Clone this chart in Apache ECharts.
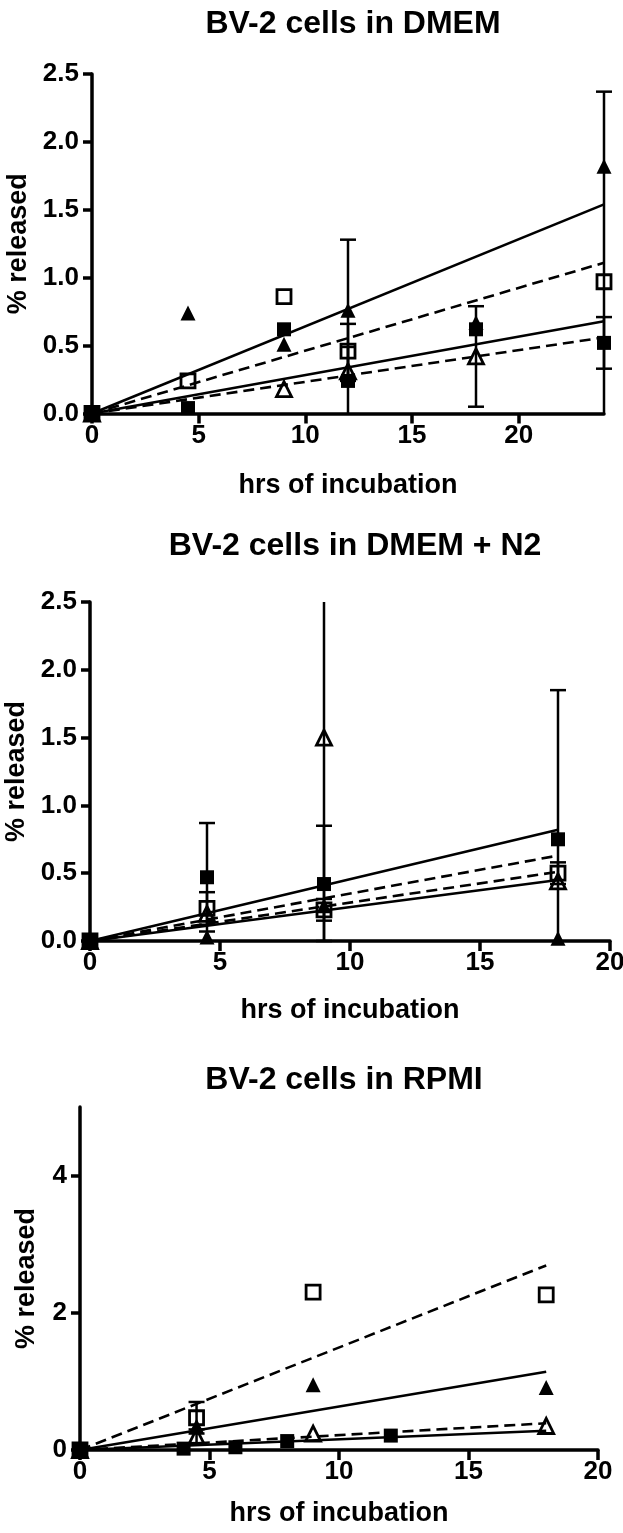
<!DOCTYPE html>
<html>
<head>
<meta charset="utf-8">
<script src="https://cdn.jsdelivr.net/npm/echarts@6/dist/echarts.min.js"></script>
<style>
html, body { margin: 0; padding: 0; background: #fff; }
#main { width: 623px; height: 1533px; }
</style>
</head>
<body>
<div id="main"></div>
<script>
// ---- panel 1 : BV-2 cells in DMEM ----
var hours1 = [0, 4.5, 9, 12, 18, 24];
var sqFilled1 = [0, 0.04, 0.62, 0.24, 0.62, 0.52];
var sqOpen1 = [0, 0.24, 0.86, 0.46, null, 0.97];
var triFilled1 = [0, 0.74, 0.51, 0.76, 0.67, 1.82];
var triOpen1 = [0, null, 0.18, 0.31, 0.42, null];
var sqFilledErr1 = [null, null, null, 0.25, null, 0.19];
var sqOpenErr1 = [null, null, null, 0.20, null, 1.40];
var triFilledErr1 = [null, null, null, 0.52, null, null];
var triOpenErr1 = [null, null, null, null, 0.37, null];
// fitted lines, value at last hour (order: sqFilled, sqOpen, triFilled, triOpen)
var fitEnd1 = [0.68, 1.11, 1.54, 0.56];
var fitHour1 = 24;
var xTicks1 = [0, 5, 10, 15, 20];

// ---- panel 2 : BV-2 cells in DMEM + N2 ----
var hours2 = [0, 4.5, 9, 18];
var sqFilled2 = [0, 0.47, 0.42, 0.75];
var sqOpen2 = [0, 0.24, 0.23, 0.50];
var triFilled2 = [0, 0.03, 0.26, 0.02];
var triOpen2 = [0, 0.20, 1.50, 0.44];
var sqFilledErr2 = [null, 0.40, 0.43, null];
var sqOpenErr2 = [null, 0.12, 0.08, 0.08];
var triFilledErr2 = [null, null, null, 1.83];
var triOpenErr2 = [null, null, 1.50, null];
var fitEnd2 = [0.82, 0.51, 0.45, 0.63];
var fitHour2 = 18;
var xTicks2 = [0, 5, 10, 15, 20];

// ---- panel 3 : BV-2 cells in RPMI ----
var hours3 = [0, 4.5, 9, 18];
var hoursSq3 = [0, 4, 6, 8, 12];
var sqFilled3 = [0, 0.02, 0.04, 0.13, 0.21];
var sqOpen3 = [0, 0.47, 2.30, 2.26];
var triFilled3 = [0, 0.35, 0.95, 0.91];
var triOpen3 = [0, 0.20, 0.24, 0.35];
var sqFilledErr3 = [null, null, null, null, null];
var sqOpenErr3 = [null, 0.23, null, null];
var triFilledErr3 = [null, null, null, null];
var triOpenErr3 = [null, 0.10, null, null];
var fitEnd3 = [0.28, 2.69, 1.14, 0.39];
var fitHour3 = 18;
var xTicks3 = [0, 5, 10, 15, 20];
var yTicks3 = [0, 2, 4];

var FONT = "'Liberation Sans', Arial, Helvetica, sans-serif";

function pts(xs, ys) {
  var out = [];
  for (var i = 0; i < xs.length; i++) {
    if (ys[i] != null) out.push([xs[i], ys[i]]);
  }
  return out;
}
function errs(xs, ys, es) {
  var out = [];
  for (var i = 0; i < xs.length; i++) {
    if (ys[i] != null && es[i] != null) out.push([xs[i], ys[i] - es[i], ys[i] + es[i]]);
  }
  return out;
}

// vertical error bar with caps, cut at the plot edges
function renderErr(params, api) {
  var cs = params.coordSys;
  var x = api.value(0);
  var pTop = api.coord([x, api.value(2)]);
  var pBot = api.coord([x, api.value(1)]);
  var yMin = cs.y, yMax = cs.y + cs.height;
  var y1 = Math.max(pTop[1], yMin), y2 = Math.min(pBot[1], yMax);
  var st = { stroke: '#000', lineWidth: 2.5 };
  var w = 8;
  var kids = [{ type: 'line', shape: { x1: pTop[0], y1: y1, x2: pTop[0], y2: y2 }, style: st }];
  if (pTop[1] >= yMin - 0.5) kids.push({ type: 'line', shape: { x1: pTop[0] - w, y1: pTop[1], x2: pTop[0] + w, y2: pTop[1] }, style: st });
  if (pBot[1] <= yMax + 0.5) kids.push({ type: 'line', shape: { x1: pBot[0] - w, y1: pBot[1], x2: pBot[0] + w, y2: pBot[1] }, style: st });
  return { type: 'group', children: kids };
}

// marker looks: filled square, open square, filled triangle, open triangle
var looks = [
  { symbol: 'rect', size: 14, fill: '#000', dash: 'solid' },
  { symbol: 'rect', size: 14, fill: 'rgba(0,0,0,0)', dash: [11, 6] },
  { symbol: 'triangle', size: 15, fill: '#000', dash: 'solid' },
  { symbol: 'triangle', size: 15, fill: 'rgba(0,0,0,0)', dash: [11, 6] }
];

var series = [];
function addPanel(idx, groups, fitEnd, fitHour) {
  groups.forEach(function (g, k) {
    var lk = looks[k];
    series.push({
      type: 'line', xAxisIndex: idx, yAxisIndex: idx, silent: true,
      showSymbol: false, z: 2,
      data: [[0, 0], [fitHour, fitEnd[k]]],
      lineStyle: { color: '#000', width: 2.6, type: lk.dash }
    });
    series.push({
      type: 'custom', xAxisIndex: idx, yAxisIndex: idx, silent: true, z: 3,
      renderItem: renderErr,
      data: errs(g.x, g.y, g.e)
    });
    series.push({
      type: 'scatter', xAxisIndex: idx, yAxisIndex: idx, silent: true, z: 4,
      symbol: lk.symbol, symbolSize: lk.size,
      itemStyle: { color: lk.fill, borderColor: '#000', borderWidth: lk.fill === '#000' ? 0 : 2.8, opacity: 1 },
      data: pts(g.x, g.y)
    });
  });
}

// order per panel: sqFilled, sqOpen, triFilled, triOpen
addPanel(0, [
  { x: hours1, y: sqFilled1, e: sqFilledErr1 },
  { x: hours1, y: sqOpen1, e: sqOpenErr1 },
  { x: hours1, y: triFilled1, e: triFilledErr1 },
  { x: hours1, y: triOpen1, e: triOpenErr1 }
], fitEnd1, fitHour1);
addPanel(1, [
  { x: hours2, y: sqFilled2, e: sqFilledErr2 },
  { x: hours2, y: sqOpen2, e: sqOpenErr2 },
  { x: hours2, y: triFilled2, e: triFilledErr2 },
  { x: hours2, y: triOpen2, e: triOpenErr2 }
], fitEnd2, fitHour2);
addPanel(2, [
  { x: hoursSq3, y: sqFilled3, e: sqFilledErr3 },
  { x: hours3, y: sqOpen3, e: sqOpenErr3 },
  { x: hours3, y: triFilled3, e: triFilledErr3 },
  { x: hours3, y: triOpen3, e: triOpenErr3 }
], fitEnd3, fitHour3);

function xAxisOf(idx, max, ticks, gap) {
  return {
    type: 'value', gridIndex: idx, min: 0, max: max,
    name: 'hrs of incubation', nameLocation: 'middle', nameGap: gap,
    nameTextStyle: { fontSize: 27, fontWeight: 'bold', color: '#000', fontFamily: FONT },
    axisLine: { show: true, onZero: false, lineStyle: { color: '#000', width: 3.5 } },
    axisTick: { show: true, length: 10, customValues: ticks, lineStyle: { color: '#000', width: 3.5 } },
    axisLabel: { customValues: ticks, margin: 9, fontSize: 26, fontWeight: 'bold', color: '#000', fontFamily: FONT },
    splitLine: { show: false }
  };
}
function yAxisOf(idx, max, interval, ticks, gap, fmt) {
  var ax = {
    type: 'value', gridIndex: idx, min: 0, max: max, interval: interval,
    name: '% released', nameLocation: 'middle', nameGap: gap,
    nameTextStyle: { fontSize: 27, fontWeight: 'bold', color: '#000', fontFamily: FONT },
    axisLine: { show: true, onZero: false, lineStyle: { color: '#000', width: 3.5 } },
    axisTick: { show: true, length: 9, lineStyle: { color: '#000', width: 3.5 } },
    axisLabel: { margin: 13, fontSize: 26, fontWeight: 'bold', color: '#000', fontFamily: FONT, formatter: fmt },
    splitLine: { show: false }
  };
  if (ticks) {
    ax.axisTick.customValues = ticks;
    ax.axisLabel.customValues = ticks;
  }
  return ax;
}

var titleStyle = { fontSize: 32, fontWeight: 'bold', color: '#000', fontFamily: FONT };

var chart = echarts.init(document.getElementById('main'), null, { renderer: 'canvas' });
chart.setOption({
  animation: false,
  backgroundColor: '#fff',
  title: [
    { text: 'BV-2 cells in DMEM', left: 348, top: 19, textAlign: 'center', textVerticalAlign: 'middle', textStyle: titleStyle },
    { text: 'BV-2 cells in DMEM + N2', left: 350, top: 541, textAlign: 'center', textVerticalAlign: 'middle', textStyle: titleStyle },
    { text: 'BV-2 cells in RPMI', left: 339, top: 1075, textAlign: 'center', textVerticalAlign: 'middle', textStyle: titleStyle }
  ],
  grid: [
    { left: 92, right: 19, top: 74, height: 339.5, outerBoundsMode: 'none' },
    { left: 90, right: 13, top: 602, height: 339, outerBoundsMode: 'none' },
    { left: 80, right: 25, top: 1107, height: 343, outerBoundsMode: 'none' }
  ],
  xAxis: [
    xAxisOf(0, 24, xTicks1, 59),
    xAxisOf(1, 20, xTicks2, 56),
    xAxisOf(2, 20, xTicks3, 50)
  ],
  yAxis: [
    yAxisOf(0, 2.5, 0.5, null, 60, function (v) { return v.toFixed(1); }),
    yAxisOf(1, 2.5, 0.5, null, 60, function (v) { return v.toFixed(1); }),
    yAxisOf(2, 5, 1, yTicks3, 40, function (v) { return String(v); })
  ],
  series: series
});
</script>
</body>
</html>
